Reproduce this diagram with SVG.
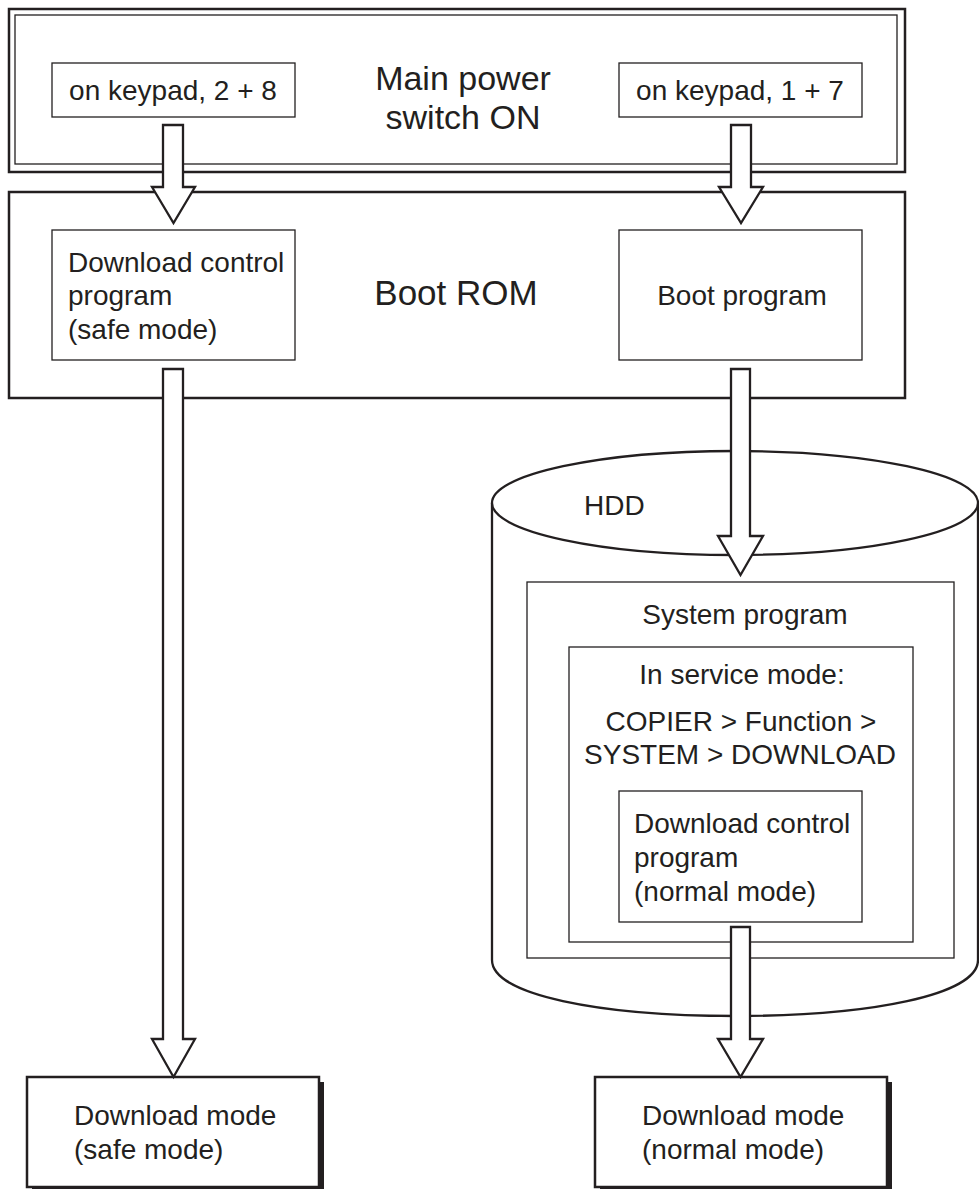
<svg xmlns="http://www.w3.org/2000/svg" width="979" height="1189" viewBox="0 0 979 1189">
<style>
text{font-family:"Liberation Sans",Arial,sans-serif;fill:#231f20;font-size:28px}
.big{font-size:35px}
.title{font-size:34px}
.c{text-anchor:middle}
.outer{fill:#fff;stroke:#231f20;stroke-width:2.5}
.thin{fill:#fff;stroke:#231f20;stroke-width:1.3}
.line{fill:none;stroke:#231f20;stroke-width:1.3}
.arrow{fill:#fff;stroke:#231f20;stroke-width:2.3;stroke-linejoin:miter}
.cyl{fill:#fff;stroke:#231f20;stroke-width:2.3}
</style>
<rect width="979" height="1189" fill="#fff"/>

<g id="power">
<rect class="outer" x="9" y="9" width="896" height="163"/>
<rect class="line" x="15" y="15" width="882" height="149"/>
<text class="title c" x="463" y="90">Main power</text>
<text class="title c" x="463" y="128.5">switch ON</text>
</g>
<g id="key28">
<rect class="thin" x="52" y="63" width="243" height="54"/>
<text class="c" x="173" y="100">on keypad, 2 + 8</text>
</g>
<g id="key17">
<rect class="thin" x="619" y="63" width="243" height="54"/>
<text class="c" x="740" y="100">on keypad, 1 + 7</text>
</g>

<g id="bootrom">
<rect class="outer" x="9" y="192" width="896" height="206"/>
<text class="big c" x="456" y="305">Boot ROM</text>
</g>
<g id="dlsafe">
<rect class="thin" x="52" y="230" width="243" height="130"/>
<text x="68" y="272">Download control</text>
<text x="68" y="305">program</text>
<text x="68" y="339">(safe mode)</text>
</g>
<g id="bootprog">
<rect class="thin" x="619" y="230" width="243" height="130"/>
<text class="c" x="742" y="305">Boot program</text>
</g>

<g id="hdd">
<path class="cyl" d="M492,503 V960 C492,995 600,1016 735,1016 C870,1016 978,995 978,960 V503"/>
<ellipse class="cyl" cx="735" cy="503" rx="243" ry="52"/>
<text x="584" y="515">HDD</text>
</g>
<g id="sysprog">
<rect class="thin" x="527" y="582" width="427" height="376"/>
<text class="c" x="745" y="624">System program</text>
</g>
<g id="service">
<rect class="thin" x="569" y="647" width="344" height="295"/>
<text class="c" x="742" y="684">In service mode:</text>
<text class="c" x="741" y="731">COPIER &gt; Function &gt;</text>
<text class="c" x="740" y="764">SYSTEM &gt; DOWNLOAD</text>
</g>
<g id="dlnormal">
<rect class="thin" x="619" y="791" width="243" height="131"/>
<text x="634" y="833">Download control</text>
<text x="634" y="867">program</text>
<text x="634" y="901">(normal mode)</text>
</g>

<g id="modesafe">
<rect x="32" y="1082" width="292" height="110" fill="#231f20"/>
<rect class="outer" x="27" y="1077" width="292" height="110"/>
<text x="74" y="1125">Download mode</text>
<text x="74" y="1159">(safe mode)</text>
</g>
<g id="modenormal">
<rect x="600" y="1082" width="292" height="110" fill="#231f20"/>
<rect class="outer" x="595" y="1077" width="292" height="110"/>
<text x="642" y="1125">Download mode</text>
<text x="642" y="1159">(normal mode)</text>
</g>

<g id="connectors">
<path class="arrow" d="M163,125 H183 V187 H195 L173.5,223 L152,187 H163 Z"/>
<path class="arrow" d="M731,125 H751 V187 H763 L741,223 L719,187 H731 Z"/>
<path class="arrow" d="M163,369 H183 V1039 H195 L173.5,1077 L152,1039 H163 Z"/>
<path class="arrow" d="M731,369 H750 V536 H763 L740.5,575 L718,536 H731 Z"/>
<path class="arrow" d="M731,927 H750 V1039 H763 L740.5,1077 L718,1039 H731 Z"/>
</g>
</svg>
